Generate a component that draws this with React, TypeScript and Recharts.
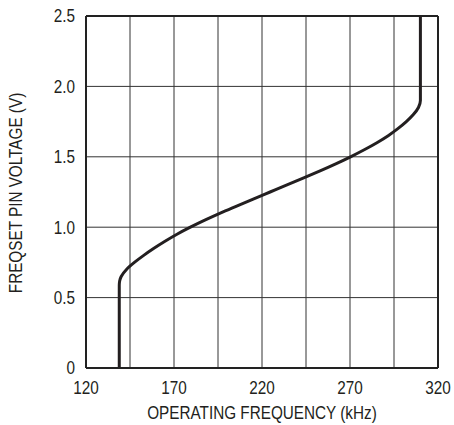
import React from 'react';
import { LineChart, Line, XAxis, YAxis, CartesianGrid, ReferenceLine } from 'recharts';

const voltages = [0, 0.58, 0.6, 0.62, 0.65, 0.7, 0.75, 0.8, 0.85, 0.9, 0.95, 1.0, 1.05, 1.1, 1.15, 1.2, 1.25, 1.3, 1.35, 1.4, 1.45, 1.5, 1.55, 1.6, 1.65, 1.7, 1.75, 1.8, 1.85, 1.9, 2.5];
const frequencies = [138.9, 138.9, 138.95, 139.15, 140.0, 143.0, 147.5, 152.8, 158.6, 164.9, 171.7, 179.3, 187.5, 196.3, 205.6, 215.0, 224.6, 234.2, 243.7, 253.0, 261.9, 270.3, 278.1, 285.3, 291.7, 297.2, 302.0, 306.0, 308.9, 310.0, 310.0];
const xTicks = [120, 145, 170, 195, 220, 245, 270, 295, 320];
const xLabelTicks = [120, 170, 220, 270, 320];
const yTicks = [0, 0.5, 1.0, 1.5, 2.0, 2.5];

const data = voltages.map((v, i) => ({ v, f: frequencies[i] }));

const FONT = '"Liberation Sans", Arial, Helvetica, sans-serif';
const TEXT = '#231f20';
const SX = 0.85;
const FS = 18;

const XTick = (props: any) => {
  const { x, y, payload } = props;
  const t = payload.value as number;
  if (!xLabelTicks.includes(t)) return null;
  return (
    <text transform={`translate(${x},${y}) scale(${SX},1)`} textAnchor="middle" dy="0.71em" fill={TEXT} fontSize={FS} fontFamily={FONT}>
      {String(t)}
    </text>
  );
};

const YTick = (props: any) => {
  const { x, y, payload } = props;
  const t = payload.value as number;
  return (
    <text transform={`translate(${x},${y}) scale(${SX},1)`} textAnchor="end" dy="0.36em" fill={TEXT} fontSize={FS} fontFamily={FONT}>
      {t === 0 ? '0' : t.toFixed(1)}
    </text>
  );
};

export default function App() {
  return (
    <div style={{ position: 'absolute', left: 0, top: 0, width: 454, height: 425, background: '#fff' }}>
      <LineChart width={454} height={425} data={data} margin={{ top: 16, right: 16, bottom: 17, left: 0 }}>
        <CartesianGrid stroke="#333" strokeWidth={1} />
        <XAxis
          dataKey="f"
          type="number"
          domain={[120, 320]}
          ticks={xTicks}
          interval={0}
          tickSize={0}
          tickMargin={13}
          height={40}
          axisLine={{ stroke: '#222', strokeWidth: 2 }}
          tick={<XTick />}
          label={{
            content: () => (
              <text transform={`translate(262,413) scale(${SX},1)`} textAnchor="middle" dominantBaseline="central" fill={TEXT} fontSize={FS} fontFamily={FONT}>
                OPERATING FREQUENCY (kHz)
              </text>
            ),
          }}
        />
        <YAxis
          dataKey="v"
          type="number"
          domain={[0, 2.5]}
          ticks={yTicks}
          interval={0}
          tickSize={0}
          tickMargin={11}
          width={86}
          axisLine={{ stroke: '#222', strokeWidth: 2 }}
          tick={<YTick />}
          label={{
            content: () => (
              <text transform={`translate(16,193) rotate(-90) scale(${SX},1)`} textAnchor="middle" dominantBaseline="central" fill={TEXT} fontSize={FS} fontFamily={FONT}>
                FREQSET PIN VOLTAGE (V)
              </text>
            ),
          }}
        />
        <ReferenceLine y={2.5} stroke="#222" strokeWidth={2} />
        <ReferenceLine x={320} stroke="#222" strokeWidth={2} />
        <Line
          type="monotoneY"
          dataKey="v"
          stroke="#231f20"
          strokeWidth={3}
          dot={false}
          isAnimationActive={false}
        />
      </LineChart>
    </div>
  );
}
